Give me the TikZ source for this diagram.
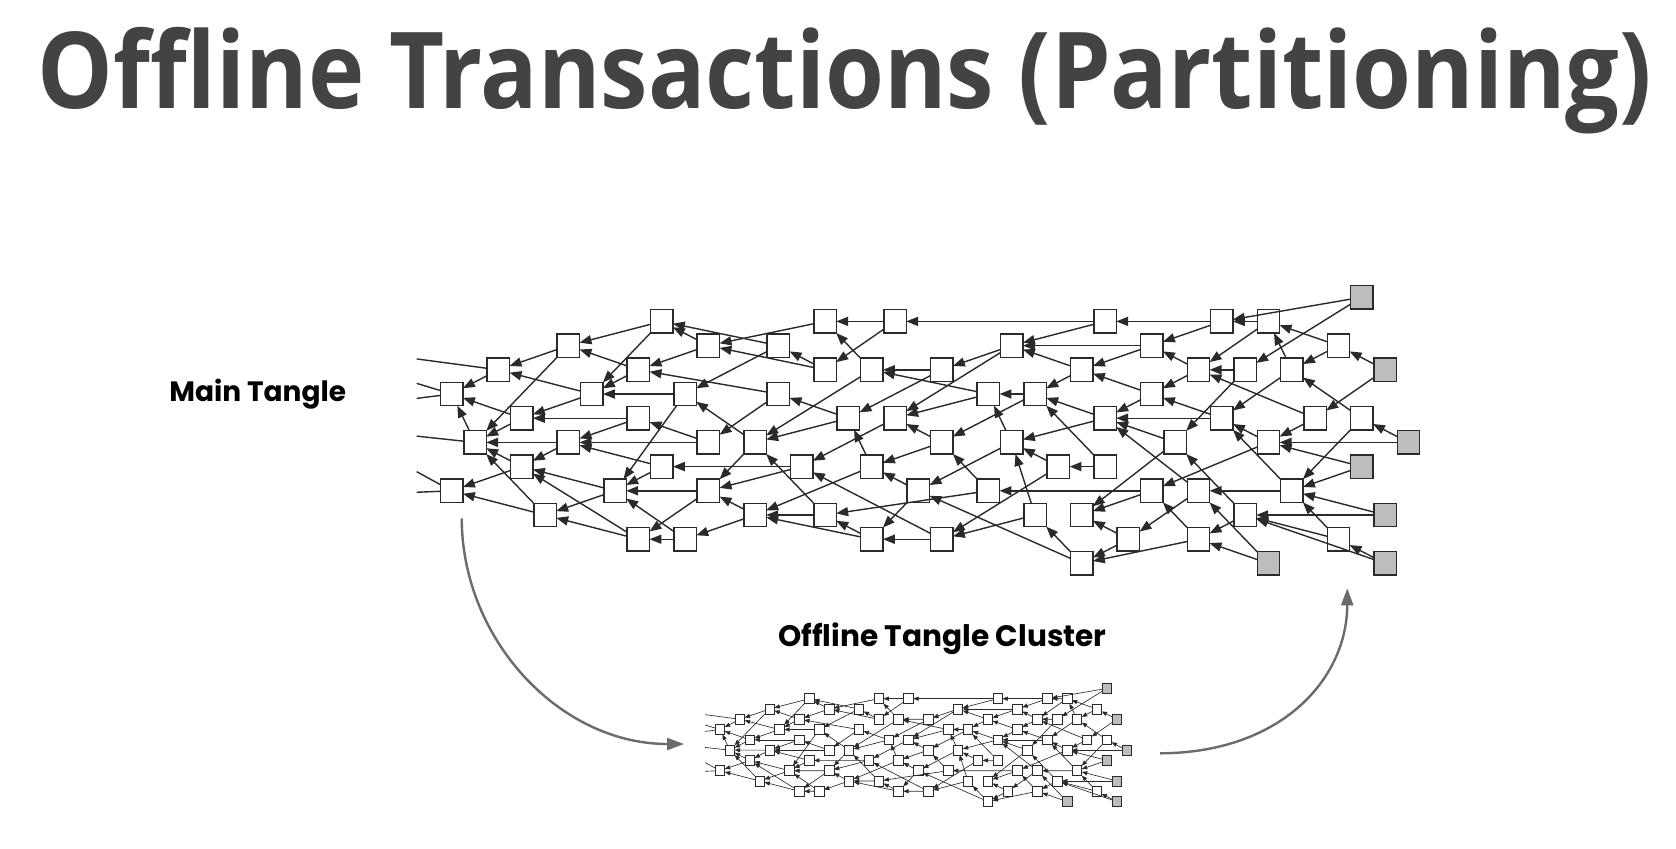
\documentclass[tikz,border=0pt]{standalone}
\usepackage{fontspec}
\usetikzlibrary{arrows.meta}
\newfontfamily\titlefont{Open Sans}
\newfontfamily\labelfont{Poppins}
\definecolor{titlegray}{HTML}{434343}
\definecolor{txline}{HTML}{2A2A2A}
\definecolor{tipfill}{HTML}{BDBDBD}
\definecolor{movegray}{HTML}{6B6B6B}
\tikzset{
  tx/.style={draw=txline, fill=white, minimum width=11.2pt, minimum height=11.7pt, inner sep=0pt, outer sep=0pt},
  tiptx/.style={tx, fill=tipfill},
  ref/.style={draw=txline, -{Triangle[length=0pt 8.5, width=0pt 6.5]}},
  old/.style={draw=txline},
  move/.style={draw=movegray, line width=1.2pt, -{Triangle[length=8.5pt, width=6pt]}},
  caption/.style={font=\labelfont\bfseries, anchor=base west, inner sep=0pt},
}
\newcommand{\drawtangle}{%
  \foreach \r/\cols in {1/{9,16,19,28,33,35}, 2/{5,11,14,24,30,38}, 3/{2,8,16,18,21,27,32,34,36},
      4/{0,6,10,14,23,25,30}, 5/{3,8,17,19,28,33,37,39}, 6/{1,5,11,13,21,24,31,35},
      7/{3,9,15,18,26,28}, 8/{0,7,11,20,23,30,32,36}, 9/{4,13,16,25,27,34},
      10/{8,10,18,21,29,32,38}, 11/{27}}
    \foreach \c in \cols
      \node[tx] (v\c-\r) at (\c,\r) {};
  \foreach \c/\r in {39/0, 40/3, 41/6, 39/7, 40/9, 35/11, 40/11}
    \node[tiptx] (v\c-\r) at (\c,\r) {};
  \coordinate (old1) at (-1.5,2.55);
  \coordinate (old2) at (-1.5,3.56);
  \coordinate (old3) at (-1.5,4.18);
  \coordinate (old4) at (-1.5,5.74);
  \coordinate (old5) at (-1.5,7.21);
  \coordinate (old6) at (-1.5,8.06);
  \foreach \src/\dst in {v2-3/old1, v0-4/old2, v0-4/old3, v1-6/old4, v0-8/old5, v0-8/old6}
    \draw[old] (\src) -- (\dst);
  \foreach \src/\dst in {2-3/0-4, 3-5/0-4, 1-6/0-4, 5-2/2-3, 6-4/2-3, 5-2/1-6, 9-1/5-2, 9-1/6-4,
      8-3/6-4, 8-3/5-2, 6-4/3-5, 8-5/3-5, 10-4/6-4, 3-5/1-6, 5-6/1-6, 3-7/1-6, 4-9/1-6,
      8-5/5-6, 9-7/5-6, 11-6/5-6, 5-6/3-7, 3-7/0-8, 4-9/0-8, 7-8/3-7, 8-10/3-7, 7-8/4-9,
      8-10/4-9, 9-7/7-8, 10-4/7-8, 11-8/7-8, 10-10/7-8, 10-10/8-10, 11-8/8-10, 11-2/9-1,
      14-2/9-1, 16-1/11-2, 16-3/11-2, 11-2/8-3, 14-4/8-3, 14-2/10-4, 16-3/14-2, 19-1/16-1,
      19-1/16-3, 18-3/16-1, 21-3/18-3, 23-4/18-3, 14-4/11-6, 17-5/14-4, 18-3/13-6, 17-5/13-6,
      21-3/17-5, 11-6/8-5, 13-6/10-4, 13-6/11-8, 15-7/9-7, 19-5/15-7, 21-10/15-7, 18-7/17-5,
      21-6/18-7, 20-8/18-7, 21-6/19-5, 15-7/11-8, 13-9/11-8, 18-7/13-9, 16-9/13-9, 18-10/13-9,
      16-9/13-6, 13-9/10-10, 18-10/16-9, 23-8/16-9, 20-8/18-10, 21-10/18-10,
      39-0/33-1, 39-0/34-3, 33-1/28-1, 35-1/33-1, 28-1/19-1, 28-1/24-2, 30-2/24-2, 33-1/30-2,
      35-1/32-3, 38-2/35-1, 36-3/35-1, 38-2/36-3, 40-3/38-2, 40-3/37-5, 39-5/36-3, 30-2/27-3,
      24-2/21-3, 24-2/19-5, 25-4/23-4, 27-3/24-2, 27-3/25-4, 30-4/27-3, 32-3/30-2, 34-3/32-3,
      32-3/30-4, 34-3/31-6, 36-3/33-5, 37-5/32-3, 30-4/28-5, 33-5/30-4, 28-5/25-4, 25-4/21-6,
      23-4/19-5, 28-5/24-6, 31-6/28-5, 33-5/28-5, 35-6/33-5, 37-5/35-6, 41-6/35-6, 39-7/35-6,
      41-6/39-5, 39-5/36-8, 39-7/36-8, 40-9/36-8, 38-10/36-8, 40-11/38-10, 40-9/34-9,
      38-10/34-9, 40-11/34-9, 36-8/32-8, 36-8/33-5, 35-6/30-8, 34-9/31-6, 35-11/32-10,
      35-11/32-8, 32-10/27-11, 34-9/32-10, 32-8/28-5, 32-8/29-10, 32-10/30-8, 30-8/27-9,
      31-6/27-9, 29-10/27-9, 29-10/27-11, 27-11/25-9, 27-11/20-8, 30-8/23-8, 28-7/26-7,
      28-7/25-4, 26-7/24-6, 26-7/21-10, 25-9/24-6, 25-9/21-10, 24-6/20-8, 24-6/23-4, 23-8/21-6}
    \draw[ref] (v\src) -- (v\dst);
}
\begin{document}
\begin{tikzpicture}[x=0.5pt, y=-0.5pt]
  \fill[white] (0,0) rectangle (1676,848);
  \useasboundingbox (0,0) rectangle (1676,848);
  \node[anchor=base, inner sep=0pt, text=titlegray] (title) at (845,108)
    {\resizebox{807pt}{40.6pt}{\titlefont\bfseries Offline Transactions (Partitioning)}};
  \node[caption, font=\labelfont\bfseries\fontsize{14}{16}\selectfont] (main) at (169,401.7) {Main Tangle};
  \node[caption, font=\labelfont\bfseries\fontsize{14.8}{17}\selectfont] (offline) at (778,646.7) {Offline Tangle Cluster};
  \begin{scope}[shift={(451.7,297.2)}, x=11.667pt, y=-12.1pt, line width=0.7pt]
    \drawtangle
  \end{scope}
  \begin{scope}[shift={(720,688.4)}, scale=0.425, transform shape, x=11.667pt, y=-12.1pt,
      line width=0.32pt, name prefix=o-]
    \drawtangle
  \end{scope}
  \coordinate (split) at (461.7,518.3);
  \coordinate (splitend) at (684,744);
  \coordinate (merge) at (1160,753.3);
  \coordinate (mergeend) at (1347.3,588.3);
  \draw[move] (split) .. controls (462,640) and (560,744) .. (splitend);
  \draw[move] (merge) .. controls (1280,753) and (1347,680) .. (mergeend);
\end{tikzpicture}
\end{document}
